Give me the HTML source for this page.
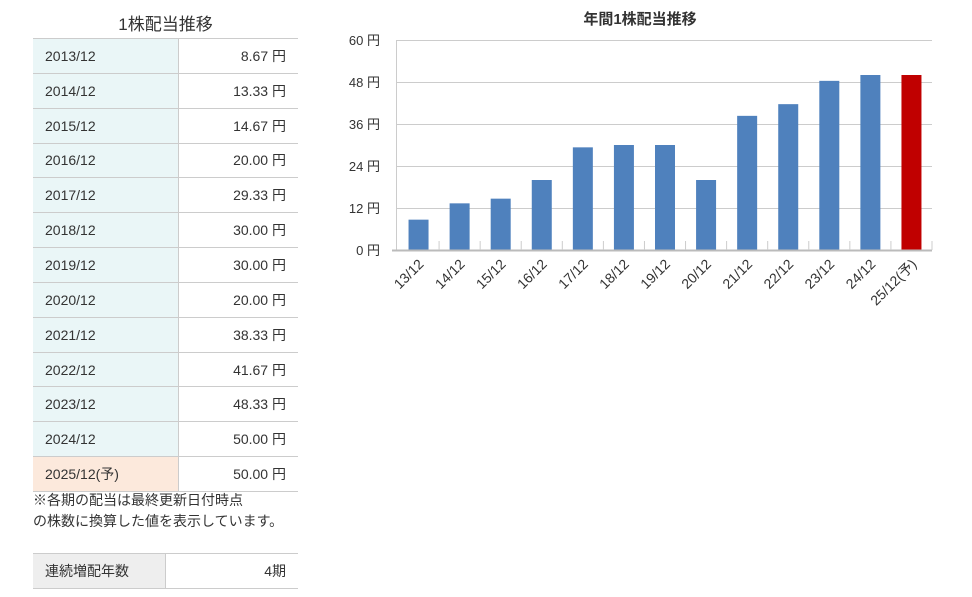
<!DOCTYPE html><html><head><meta charset="utf-8"><style>
body{margin:0;width:972px;height:597px;background:#fff;font-family:"Liberation Sans","Noto Sans CJK JP",sans-serif;color:#333;position:relative;overflow:hidden}
.t{position:absolute;left:33px;width:265px;border-collapse:collapse;font-size:14px}
.t td{height:33.85px;padding:0 12px;border-top:1px solid #ccc;border-bottom:1px solid #ccc}
.t td.l{background:#eaf6f7;border-right:1px solid #ccc}
.t td.r{text-align:right}
</style></head><body>
<div style="position:absolute;left:33px;width:265px;top:10px;text-align:center;font-size:17px;color:#333">1株配当推移</div>
<table class="t" style="top:38px">
<tr><td class="l" style="width:121px">2013/12</td><td class="r">8.67 円</td></tr>
<tr><td class="l">2014/12</td><td class="r">13.33 円</td></tr>
<tr><td class="l">2015/12</td><td class="r">14.67 円</td></tr>
<tr><td class="l">2016/12</td><td class="r">20.00 円</td></tr>
<tr><td class="l">2017/12</td><td class="r">29.33 円</td></tr>
<tr><td class="l">2018/12</td><td class="r">30.00 円</td></tr>
<tr><td class="l">2019/12</td><td class="r">30.00 円</td></tr>
<tr><td class="l">2020/12</td><td class="r">20.00 円</td></tr>
<tr><td class="l">2021/12</td><td class="r">38.33 円</td></tr>
<tr><td class="l">2022/12</td><td class="r">41.67 円</td></tr>
<tr><td class="l">2023/12</td><td class="r">48.33 円</td></tr>
<tr><td class="l">2024/12</td><td class="r">50.00 円</td></tr>
<tr><td class="l" style="background:#fce9dc">2025/12(予)</td><td class="r">50.00 円</td></tr>
</table>
<div style="position:absolute;left:33px;top:490px;font-size:14px;line-height:21px">※各期の配当は最終更新日付時点<br>の株数に換算した値を表示しています。</div>
<table class="t" style="top:553px"><tr><td class="l" style="width:108px;background:#eee">連続増配年数</td><td class="r">4期</td></tr></table>
<svg style="position:absolute;left:0;top:0" width="972" height="597" font-family="Liberation Sans,Noto Sans CJK JP,sans-serif">
<text x="640" y="24" text-anchor="middle" font-size="15" font-weight="bold" fill="#333">年間1株配当推移</text>
<g stroke="#ccc" stroke-width="1">
<line x1="396" x2="932" y1="40.5" y2="40.5"/><line x1="396" x2="932" y1="82.5" y2="82.5"/><line x1="396" x2="932" y1="124.5" y2="124.5"/><line x1="396" x2="932" y1="166.5" y2="166.5"/><line x1="396" x2="932" y1="208.5" y2="208.5"/>
<line x1="396.5" x2="396.5" y1="40" y2="250"/>
</g>
<g font-size="13" fill="#333" text-anchor="end">
<text x="380" y="45">60 円</text><text x="380" y="87">48 円</text><text x="380" y="129">36 円</text><text x="380" y="171">24 円</text><text x="380" y="213">12 円</text><text x="380" y="255">0 円</text>
</g>
<g id="bars"></g>
<line x1="392" x2="932" y1="250.5" y2="250.5" stroke="#bbb" stroke-width="2"/>
<g id="tk" stroke="#ccc"></g>
<g id="lb" font-size="14" fill="#333" text-anchor="end"></g>
</svg>
<script>
var v=[8.67,13.33,14.67,20,29.33,30,30,20,38.33,41.67,48.33,50,50],
n=["13/12","14/12","15/12","16/12","17/12","18/12","19/12","20/12","21/12","22/12","23/12","24/12","25/12(予)"],
w=(932-398)/13,s="",t="",l="";
for(var i=0;i<13;i++){var c=398+w*(i+.5),h=v[i]*3.5;
s+='<rect x="'+(c-10)+'" y="'+(250-h)+'" width="20" height="'+h+'" fill="'+(i==12?'#c00000':'#4f81bd')+'"/>';
var x=398+w*(i+1);t+='<line x1="'+x+'" x2="'+x+'" y1="241" y2="250"/>';
l+='<text transform="translate('+(c+6)+',265) rotate(-45)">'+n[i]+'</text>';}
document.getElementById("bars").innerHTML=s;document.getElementById("tk").innerHTML=t;document.getElementById("lb").innerHTML=l;
</script>
</body></html>
